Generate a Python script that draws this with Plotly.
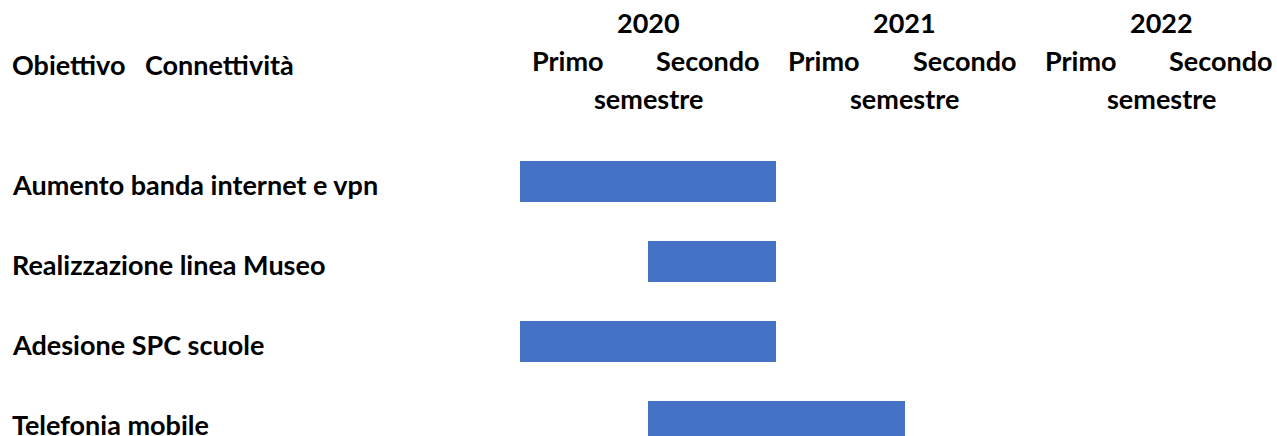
import plotly.graph_objects as go

# ---- data ----
activities = [
    "Aumento banda internet e vpn",
    "Realizzazione linea Museo",
    "Adesione SPC scuole",
    "Telefonia mobile",
]
start_semester = [0, 1, 0, 1]      # 0 = 2020 primo semestre
duration_semesters = [2, 1, 2, 2]
years = ["2020", "2021", "2022"]
semester_first = "Primo"
semester_second = "Secondo"
semester_word = "semestre"
header_left = ["Obiettivo", "Connettività"]

# ---- layout constants ----
W, H = 1277, 436
x0_px = 519.75          # pixel position of semester 0
sem_px = 128.25         # pixels per semester
row0_px = 181.5         # pixel center of first row
row_px = 80.0           # pixels per row
bar_px = 41.0

FONT = "Lato"
FS = 27
BLUE = "#4472C4"

rows = list(range(len(activities)))

fig = go.Figure()
fig.add_trace(go.Bar(
    y=rows,
    x=duration_semesters,
    base=start_semester,
    orientation="h",
    width=bar_px / row_px,
    marker=dict(color=BLUE, line=dict(width=0)),
    hoverinfo="skip",
    showlegend=False,
))

ann = []
# category labels
for i, name in enumerate(activities):
    ann.append(dict(
        text=f"<b>{name}</b>", xref="paper", x=10 / W, xanchor="left",
        yref="y", y=i + 3 / row_px, yanchor="middle", showarrow=False,
        font=dict(family=FONT, size=FS, color="black"),
    ))

# top-left header
ann.append(dict(text=f"<b>{header_left[0]}</b>", xref="paper", x=10 / W, xanchor="left",
                yref="paper", y=1 - 65 / H, yanchor="middle", showarrow=False,
                font=dict(family=FONT, size=FS, color="black")))
ann.append(dict(text=f"<b>{header_left[1]}</b>", xref="paper", x=143 / W, xanchor="left",
                yref="paper", y=1 - 65 / H, yanchor="middle", showarrow=False,
                font=dict(family=FONT, size=FS, color="black")))

# year/semester headers
for k, yr in enumerate(years):
    c = 2 * k
    ann.append(dict(text=f"<b>{yr}</b>", xref="x", x=c + 1, xanchor="center",
                    yref="paper", y=1 - 23 / H, yanchor="middle", showarrow=False,
                    font=dict(family=FONT, size=FS, color="black")))
    ann.append(dict(text=f"<b>{semester_first}</b>", xref="x", x=c + 10 / sem_px, xanchor="left",
                    yref="paper", y=1 - 60 / H, yanchor="middle", showarrow=False,
                    font=dict(family=FONT, size=FS, color="black")))
    ann.append(dict(text=f"<b>{semester_second}</b>", xref="x", x=c + 2 - 14 / sem_px, xanchor="right",
                    yref="paper", y=1 - 60 / H, yanchor="middle", showarrow=False,
                    font=dict(family=FONT, size=FS, color="black")))
    ann.append(dict(text=f"<b>{semester_word}</b>", xref="x", x=c + 1, xanchor="center",
                    yref="paper", y=1 - 98 / H, yanchor="middle", showarrow=False,
                    font=dict(family=FONT, size=FS, color="black")))

y_top = -row0_px / row_px
y_bot = y_top + H / row_px
x_left = -x0_px / sem_px
x_right = x_left + W / sem_px

fig.update_layout(
    width=W, height=H,
    margin=dict(l=0, r=0, t=0, b=0),
    paper_bgcolor="white", plot_bgcolor="white",
    xaxis=dict(range=[x_left, x_right], visible=False, fixedrange=True),
    yaxis=dict(range=[y_bot, y_top], visible=False, fixedrange=True),
    annotations=ann,
    bargap=0,
)

fig.write_html("out.html", config={"displayModeBar": False})
